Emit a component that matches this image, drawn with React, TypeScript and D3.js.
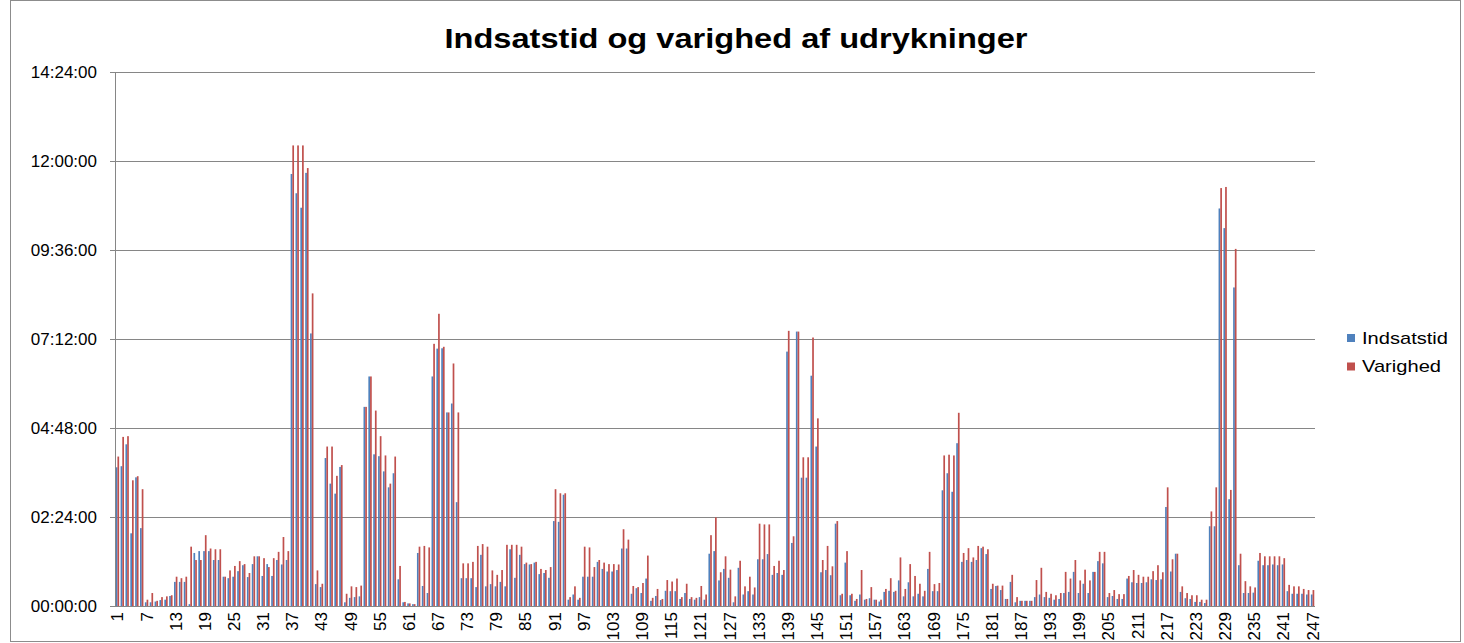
import React, { useEffect, useRef } from 'react';
import * as d3 from 'd3';

const title = 'Indsatstid og varighed af udrykninger';
const seriesNames = ['Indsatstid', 'Varighed'];
const seriesColors = ['#4F81BD', '#C0504D'];

// values in hours (one per udrykning, 1..247)
const indsatstid = [
  3.74, 3.77, 4.36, 1.96, 3.47, 2.1, 0.1, 0.1, 0.12, 0.16,
  0.17, 0.27, 0.65, 0.65, 0.65, 0.05, 1.43, 1.48, 1.48, 1.48,
  1.24, 1.24, 0.79, 0.75, 0.79, 0.94, 1.1, 0.78, 1.13, 1.34,
  0.81, 1.13, 0.81, 1.24, 1.12, 1.24, 11.65, 11.13, 10.74, 11.68,
  7.35, 0.59, 0.51, 3.99, 3.3, 3.03, 3.75, 0.1, 0.22, 0.24,
  0.26, 5.37, 6.19, 4.09, 4.04, 3.63, 3.2, 3.58, 0.72, 0.1,
  0.07, 0.05, 1.43, 0.54, 0.35, 6.19, 6.94, 6.95, 5.22, 5.46,
  2.8, 0.75, 0.75, 0.75, 0.51, 1.38, 0.53, 0.59, 0.53, 0.65,
  0.53, 1.53, 0.76, 1.38, 1.13, 1.12, 1.17, 0.86, 0.89, 0.76,
  2.29, 2.27, 3.0, 0.17, 0.31, 0.17, 0.79, 0.79, 0.79, 1.19,
  1.0, 0.93, 0.93, 0.97, 1.55, 1.55, 0.33, 0.48, 0.35, 0.74,
  0.14, 0.27, 0.16, 0.41, 0.4, 0.4, 0.19, 0.35, 0.19, 0.17,
  0.24, 0.17, 1.41, 1.48, 0.69, 1.0, 0.76, 0.1, 1.03, 0.31,
  0.4, 0.31, 1.26, 1.26, 1.4, 0.84, 0.89, 0.84, 6.86, 1.7,
  7.4, 3.46, 3.46, 6.21, 4.3, 0.91, 0.97, 0.83, 2.22, 0.29,
  1.17, 0.29, 0.14, 0.31, 0.17, 0.21, 0.17, 0.12, 0.38, 0.41,
  0.38, 0.69, 0.26, 0.64, 0.26, 0.33, 0.26, 1.0, 0.4, 0.4,
  3.12, 3.58, 3.08, 4.39, 1.19, 1.24, 1.19, 1.24, 1.56, 1.4,
  0.46, 0.54, 0.43, 0.19, 0.65, 0.1, 0.14, 0.14, 0.14, 0.24,
  0.31, 0.24, 0.22, 0.17, 0.19, 0.35, 0.38, 0.92, 0.35, 0.6,
  0.35, 0.92, 1.21, 1.15, 0.24, 0.27, 0.19, 0.19, 0.74, 0.64,
  0.62, 0.62, 0.64, 0.72, 0.7, 0.72, 2.67, 0.93, 1.41, 0.38,
  0.21, 0.19, 0.11, 0.11, 0.08, 2.15, 2.15, 10.72, 10.19, 2.88,
  8.59, 1.1, 0.35, 0.35, 0.36, 1.22, 1.1, 1.1, 1.12, 1.1,
  1.12, 0.4, 0.33, 0.33, 0.33, 0.31, 0.31
];

const varighed = [
  4.03, 4.56, 4.58, 3.39, 3.5, 3.15, 0.17, 0.35, 0.14, 0.24,
  0.26, 0.29, 0.79, 0.75, 0.79, 1.6, 1.24, 1.24, 1.91, 1.55,
  1.53, 1.53, 0.79, 0.96, 1.08, 1.21, 1.13, 0.89, 1.34, 1.34,
  1.29, 1.05, 1.29, 1.46, 1.86, 1.48, 12.42, 12.42, 12.42, 11.81,
  8.43, 0.96, 0.6, 4.3, 4.3, 3.51, 3.8, 0.33, 0.53, 0.51,
  0.55, 5.37, 6.19, 5.27, 4.58, 4.06, 3.3, 4.03, 1.08, 0.11,
  0.07, 0.05, 1.6, 1.62, 1.58, 7.07, 7.88, 6.99, 5.22, 6.54,
  5.22, 1.15, 1.15, 1.19, 1.62, 1.67, 1.6, 0.96, 0.84, 0.97,
  1.65, 1.65, 1.65, 1.6, 1.17, 1.13, 1.19, 1.0, 0.97, 1.05,
  3.15, 3.04, 3.04, 0.24, 0.53, 0.22, 1.6, 1.58, 1.05, 1.24,
  1.17, 1.13, 1.13, 1.12, 2.07, 1.79, 0.54, 0.51, 0.62, 1.36,
  0.22, 0.46, 0.19, 0.7, 0.66, 0.74, 0.24, 0.6, 0.24, 0.22,
  0.54, 0.31, 1.91, 2.39, 0.91, 1.34, 0.98, 0.26, 1.22, 0.53,
  0.79, 0.5, 2.22, 2.2, 2.2, 1.08, 1.22, 0.97, 7.42, 1.88,
  7.4, 4.01, 4.01, 7.24, 5.06, 1.24, 1.62, 1.07, 2.29, 0.33,
  1.48, 0.33, 0.19, 0.97, 0.19, 0.51, 0.17, 0.17, 0.46, 0.75,
  0.41, 1.31, 0.46, 1.13, 0.81, 0.6, 0.41, 1.46, 0.59, 0.62,
  4.06, 4.08, 4.06, 5.21, 1.43, 1.56, 1.31, 1.62, 1.6, 1.53,
  0.6, 0.55, 0.55, 0.19, 0.84, 0.24, 0.14, 0.14, 0.14, 0.7,
  1.03, 0.38, 0.33, 0.29, 0.35, 0.92, 0.74, 1.24, 0.69, 0.98,
  0.69, 0.92, 1.46, 1.46, 0.35, 0.43, 0.32, 0.32, 0.81, 0.97,
  0.84, 0.79, 0.79, 0.94, 1.1, 0.91, 3.2, 1.26, 1.41, 0.53,
  0.35, 0.29, 0.29, 0.17, 0.17, 2.55, 3.2, 11.27, 11.3, 3.13,
  9.63, 1.41, 0.67, 0.53, 0.5, 1.43, 1.34, 1.34, 1.34, 1.34,
  1.29, 0.57, 0.53, 0.53, 0.46, 0.43, 0.43
];

const categories = indsatstid.map((d, i) => i + 1);

const yTickHours = [0, 2.4, 4.8, 7.2, 9.6, 12, 14.4];
const yTickLabels = ['00:00:00', '02:24:00', '04:48:00', '07:12:00', '09:36:00', '12:00:00', '14:24:00'];

// every 6th category gets a label
const xLabelEvery = 6;

const font = "'Liberation Sans', Arial, sans-serif";

export default function App() {
  const ref = useRef<SVGSVGElement>(null);

  useEffect(() => {
    const width = 1464;
    const height = 643;
    const margin = { top: 72, right: 149, bottom: 37, left: 115 };
    const plotRight = width - margin.right;
    const plotBottom = height - margin.bottom;

    const svg = d3.select(ref.current);
    svg.selectAll('*').remove();

    // chart frame
    svg.append('rect')
      .attr('x', 10.5).attr('y', 0.5)
      .attr('width', 1450).attr('height', 641)
      .attr('fill', '#fff')
      .attr('stroke', '#8c8c8c');

    let x = d3.scaleBand<number>()
      .domain(categories)
      .range([margin.left, plotRight])
      .paddingInner(0.3)
      .paddingOuter(0.15);
    let xs = d3.scaleBand<number>()
      .domain([0, 1])
      .range([0, x.bandwidth()]);
    let y = d3.scaleLinear()
      .domain([0, 14.4])
      .range([plotBottom, margin.top]);

    // gridlines
    svg.append('g')
      .selectAll('line')
      .data(yTickHours.slice(1))
      .join('line')
      .attr('x1', margin.left).attr('x2', plotRight)
      .attr('y1', d => Math.round(y(d)) + 0.5)
      .attr('y2', d => Math.round(y(d)) + 0.5)
      .attr('stroke', '#868686');

    // bars
    [indsatstid, varighed].forEach(function (values, s) {
      svg.append('g')
        .selectAll('rect')
        .data(values)
        .join('rect')
        .attr('x', (d, i) => (x(categories[i]) as number) + (xs(s) as number))
        .attr('y', d => y(d))
        .attr('width', xs.bandwidth())
        .attr('height', d => y(0) - y(d))
        .attr('fill', seriesColors[s]);
    });

    // axes lines
    svg.append('line')
      .attr('x1', margin.left + 0.5).attr('x2', margin.left + 0.5)
      .attr('y1', margin.top).attr('y2', plotBottom)
      .attr('stroke', '#868686');
    svg.append('line')
      .attr('x1', margin.left).attr('x2', plotRight)
      .attr('y1', Math.round(plotBottom) + 0.5).attr('y2', Math.round(plotBottom) + 0.5)
      .attr('stroke', '#868686');

    // y ticks + labels
    let yt = svg.append('g');
    yt.selectAll('line')
      .data(yTickHours)
      .join('line')
      .attr('x1', margin.left - 5).attr('x2', margin.left)
      .attr('y1', d => Math.round(y(d)) + 0.5)
      .attr('y2', d => Math.round(y(d)) + 0.5)
      .attr('stroke', '#868686');
    yt.selectAll('text')
      .data(yTickHours)
      .join('text')
      .attr('x', 97)
      .attr('y', d => y(d))
      .attr('dy', '0.35em')
      .attr('text-anchor', 'end')
      .style('font-family', font)
      .style('font-size', '17px')
      .text((d, i) => yTickLabels[i]);

    // x labels, rotated
    svg.append('g')
      .selectAll('text')
      .data(categories.filter((c, i) => i % xLabelEvery === 0))
      .join('text')
      .attr('transform', d => 'translate(' + ((x(d) as number) + x.bandwidth() / 2) + ',' + (plotBottom + 6) + ') rotate(-90)')
      .attr('dy', '0.35em')
      .attr('text-anchor', 'end')
      .style('font-family', font)
      .style('font-size', '17px')
      .text(d => String(d));

    // title (the original is drawn a bit wide, so stretch it)
    svg.append('text')
      .attr('x', 736)
      .attr('y', 48)
      .attr('text-anchor', 'middle')
      .attr('textLength', 583)
      .attr('lengthAdjust', 'spacingAndGlyphs')
      .style('font-family', font)
      .style('font-weight', 'bold')
      .style('font-size', '27px')
      .text(title);

    // legend
    let legendWidths = [86, 79];
    let legend = svg.append('g')
      .selectAll('g')
      .data(seriesNames)
      .join('g')
      .attr('transform', (d, i) => 'translate(1347,' + (334 + i * 28.5) + ')');
    legend.append('rect')
      .attr('width', 8).attr('height', 8)
      .attr('fill', (d, i) => seriesColors[i]);
    legend.append('text')
      .attr('x', 15)
      .attr('y', 4)
      .attr('dy', '0.35em')
      .attr('textLength', (d, i) => legendWidths[i])
      .attr('lengthAdjust', 'spacingAndGlyphs')
      .style('font-family', font)
      .style('font-size', '17px')
      .text(d => d);
  }, []);

  return (
    <div style={{ position: 'absolute', left: 0, top: 0 }}>
      <svg ref={ref} width={1464} height={643}></svg>
    </div>
  );
}
